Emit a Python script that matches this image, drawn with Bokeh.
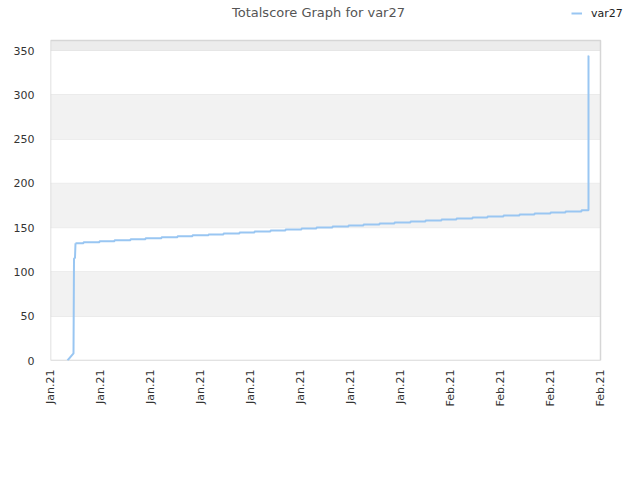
import pandas as pd
from math import pi
from bokeh.plotting import figure
from bokeh.models import (FixedTicker, DatetimeTickFormatter, Range1d, BoxAnnotation,
                          Legend, LegendItem, Label)
from bokeh.embed import file_html
from bokeh.resources import INLINE

# --- data -------------------------------------------------------------
title_text = "Totalscore Graph for var27"
series_name = "var27"

# initial ramp (plain line)
ramp_times = ["2021-01-02 08:38", "2021-01-02 20:10", "2021-01-02 21:07",
              "2021-01-02 23:02", "2021-01-03 00:00"]
ramp_scores = [0, 8, 115, 116, 132.4]

# staircase (score changes, step after)
step_times = [
    "2021-01-03 00:00", "2021-01-03 15:22", "2021-01-04 22:05", "2021-01-06 02:53",
    "2021-01-07 09:36", "2021-01-08 14:24", "2021-01-09 21:07", "2021-01-11 03:50",
    "2021-01-12 08:38", "2021-01-13 15:22", "2021-01-14 20:10", "2021-01-16 02:53",
    "2021-01-17 07:41", "2021-01-18 14:24", "2021-01-19 19:12", "2021-01-21 01:55",
    "2021-01-22 06:43", "2021-01-23 13:26", "2021-01-24 20:10", "2021-01-26 00:58",
    "2021-01-27 07:41", "2021-01-28 12:29", "2021-01-29 19:12", "2021-01-31 00:00",
    "2021-02-01 06:43", "2021-02-02 11:31", "2021-02-03 18:14", "2021-02-04 23:02",
    "2021-02-06 05:46", "2021-02-07 12:29", "2021-02-08 17:17", "2021-02-10 00:00",
    "2021-02-11 04:48", "2021-02-12 11:31", "2021-02-13 00:58", "2021-02-13 00:59",
]
step_scores = [
    132.4, 133.6, 134.7, 135.8, 136.9, 138.0, 139.1, 140.2,
    141.3, 142.4, 143.5, 144.6, 145.7, 146.8, 147.9, 149.0,
    150.2, 151.3, 152.4, 153.5, 154.6, 155.8, 156.9, 158.0,
    159.1, 160.3, 161.4, 162.5, 163.7, 164.8, 166.0, 167.1,
    168.3, 169.7, 344.0, 344.0,
]

tick_dates = ["2021-01-01", "2021-01-05", "2021-01-09", "2021-01-13",
              "2021-01-17", "2021-01-21", "2021-01-25", "2021-01-29",
              "2021-02-02", "2021-02-06", "2021-02-10", "2021-02-14"]
y_ticks = [0, 50, 100, 150, 200, 250, 300, 350]
x_start, x_end = "2021-01-01", "2021-02-14"
y_max = 361.3

# --- geometry (pixels) ------------------------------------------------
W, H = 640, 480
LEFT, BOTTOM_PAD = 50, 120
plot_px_w = 550          # Jan 1 -> Feb 14
plot_px_h = 320          # 0 -> y_max

xs = pd.Timestamp(x_start)
xe = pd.Timestamp(x_end)
ms_per_px = (xe - xs) / plot_px_w
val_per_px = y_max / plot_px_h
frame_w = W - LEFT
frame_h = H - BOTTOM_PAD
x_hi = xs + ms_per_px * frame_w
y_hi = val_per_px * frame_h

rt = pd.to_datetime(ramp_times)
st = pd.to_datetime(step_times)
ticks_ms = [pd.Timestamp(d).value / 1e6 for d in tick_dates]

p = figure(width=W, height=H, x_axis_type="datetime",
           output_backend="svg", toolbar_location=None,
           x_range=Range1d(xs, x_hi), y_range=Range1d(0, y_hi),
           min_border_left=LEFT, min_border_right=0,
           min_border_top=0, min_border_bottom=BOTTOM_PAD)
p.background_fill_color = "white"
p.border_fill_color = "white"
p.outline_line_color = None
p.title.visible = False

FONT = "DejaVu Sans"

# plot-area bands and border
for lo, hi in [(50, 100), (150, 200), (250, 300)]:
    p.add_layout(BoxAnnotation(left=xs, right=xe, bottom=lo, top=hi,
                               fill_color="#f2f2f2", fill_alpha=1, line_alpha=0,
                               level="underlay"))
p.add_layout(BoxAnnotation(left=xs, right=xe, bottom=350, top=y_max,
                           fill_color="#ececec", fill_alpha=1, line_alpha=0,
                           level="underlay"))
p.segment(x0=[xs] * len(y_ticks), x1=[xe] * len(y_ticks), y0=y_ticks, y1=y_ticks,
          line_color="#e0e0e0", line_width=1, level="underlay")
p.quad(left=[xs], right=[xe], bottom=[0], top=[y_max],
       fill_color=None, line_color="#d6d6d6", line_width=1.5)

p.xgrid.visible = False
p.ygrid.visible = False

# axes
p.yaxis.ticker = FixedTicker(ticks=y_ticks)
p.xaxis.ticker = FixedTicker(ticks=ticks_ms)
fmt = "%b.%y"
p.xaxis.formatter = DatetimeTickFormatter(
    milliseconds=fmt, seconds=fmt, minsec=fmt, minutes=fmt, hourmin=fmt,
    hours=fmt, days=fmt, months=fmt, years=fmt)
p.xaxis.major_label_orientation = pi / 2
for ax in (p.xaxis[0], p.yaxis[0]):
    ax.axis_line_color = None
    ax.major_tick_line_color = None
    ax.minor_tick_line_color = None
    ax.major_label_text_font = FONT
    ax.major_label_text_font_size = "11px"
    ax.major_label_text_color = "#333333"
p.yaxis.major_label_standoff = 10
p.xaxis.major_label_standoff = 3

color = "#99c6f2"
r1 = p.line(rt, ramp_scores, line_color=color, line_width=2)
r2 = p.step(st, step_scores, mode="after", line_color=color, line_width=2)

# title (centered on the canvas)
p.add_layout(Label(x=xs + ms_per_px * (W / 2 - 2 - LEFT), y=val_per_px * (frame_h - 12),
                   text=title_text, text_align="center", text_baseline="middle",
                   text_font=FONT, text_font_size="13px", text_color="#555555"))

legend = Legend(items=[LegendItem(label=series_name, renderers=[r2])],
                location=(521, frame_h - 20), orientation="horizontal",
                background_fill_alpha=0, border_line_color=None,
                padding=0, margin=0, glyph_width=11, glyph_height=14,
                label_text_font=FONT, label_text_font_size="11px",
                label_text_color="#222222", label_standoff=9)
p.add_layout(legend)

open("out.html", "w").write(file_html(p, INLINE))
